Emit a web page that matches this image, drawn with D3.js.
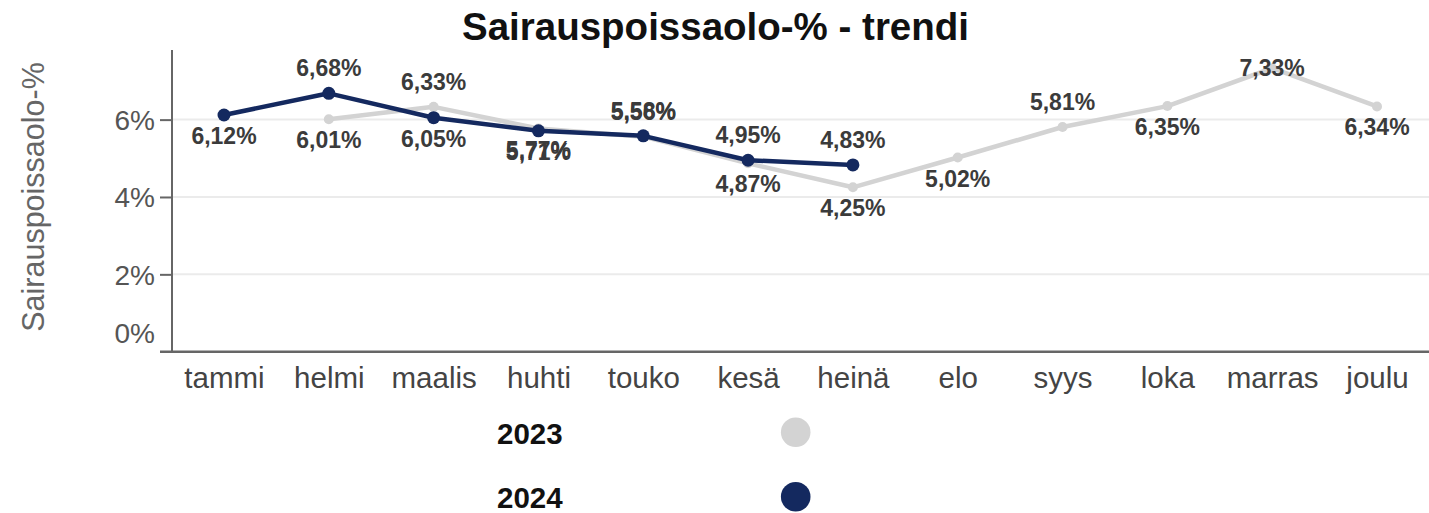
<!DOCTYPE html>
<html><head><meta charset="utf-8">
<script src="https://cdn.jsdelivr.net/npm/d3@7"></script>
<style>
body{margin:0;background:#fff;}
svg{display:block;font-family:"Liberation Sans",Arial,sans-serif;}
</style></head>
<body><svg id="c" width="1429" height="513"></svg>
<script>
const months = ["tammi","helmi","maalis","huhti","touko","kesä","heinä","elo","syys","loka","marras","joulu"];
const years = ["2023","2024"];
const values2023 = [null,6.01,6.33,5.77,5.56,4.87,4.25,5.02,5.81,6.35,7.33,6.34];
const values2024 = [6.12,6.68,6.05,5.71,5.58,4.95,4.83];
const yTicks = [0,2,4,6];
const labelSide2023 = [null,"below","above","below","above","below","below","below","above","below","above","below"];
const labelSide2024 = ["below","above","below","below","above","above","above"];
const colors = {"2023":"#d3d3d3","2024":"#14295f"};

const svg = d3.select("#c");
const x = d3.scalePoint().domain(months).range([224,1377]);
const y = d3.scaleLinear().domain([0,7.8]).range([351.7,50]);
const fmt = v => d3.format(".2f")(v).replace(".",",")+"%";

// title
svg.append("text").attr("x",715.5).attr("y",40).attr("text-anchor","middle")
  .attr("font-size",38.5).attr("font-weight","bold").attr("fill","#111").text("Sairauspoissaolo-% - trendi");

// gridlines
svg.append("g").selectAll("line").data(yTicks.filter(d=>d>0)).join("line")
  .attr("x1",172).attr("x2",1429).attr("y1",d=>y(d)).attr("y2",d=>y(d))
  .attr("stroke","#ebebeb").attr("stroke-width",2);

// y axis
const ya = svg.append("g").attr("transform","translate(172,0)")
  .call(d3.axisLeft(y).tickValues(yTicks).tickSize(12).tickPadding(5).tickFormat(d=>d+"%"));
ya.select(".domain").attr("d","M0,50V351.7").attr("stroke","#666").attr("stroke-width",2);
ya.selectAll(".tick line").attr("stroke","#666").attr("stroke-width",2).filter(d=>d===0).remove();
ya.selectAll(".tick text").attr("font-size",28).attr("fill","#555").attr("font-family","Liberation Sans, Arial, sans-serif")
  .attr("dy",d=>d===0?"-0.32em":"0.35em");

// x axis
const xa = svg.append("g").attr("transform","translate(0,351.7)")
  .call(d3.axisBottom(x).tickSize(0));
xa.select(".domain").attr("d","M160,0H1429").attr("stroke","#666").attr("stroke-width",2.5);
xa.selectAll(".tick text").attr("font-size",29.5).attr("fill","#444").attr("y",36.6).attr("dy",0).attr("font-family","Liberation Sans, Arial, sans-serif");

// y title
svg.append("text").attr("transform","translate(44,197) rotate(-90)").attr("text-anchor","middle")
  .attr("font-size",30.5).attr("fill","#666").text("Sairauspoissaolo-%");

const series = [
  {key:"2023", vals:values2023, sides:labelSide2023, r:5},
  {key:"2024", vals:values2024, sides:labelSide2024, r:6.5}
];
const line = d3.line().defined(d=>d.v!=null).x(d=>x(d.m)).y(d=>y(d.v));
series.forEach(s=>{
  const pts = s.vals.map((v,i)=>({m:months[i],v,side:s.sides[i]}));
  svg.append("path").datum(pts).attr("d",line).attr("fill","none")
    .attr("stroke",colors[s.key]).attr("stroke-width",4.5).attr("stroke-linejoin","round");
  svg.append("g").selectAll("circle").data(pts.filter(d=>d.v!=null)).join("circle")
    .attr("cx",d=>x(d.m)).attr("cy",d=>y(d.v)).attr("r",s.r).attr("fill",colors[s.key]);
});
series.forEach(s=>{
  const pts = s.vals.map((v,i)=>({m:months[i],v,side:s.sides[i]}));
  svg.append("g").selectAll("text").data(pts.filter(d=>d.v!=null)).join("text")
    .attr("x",d=>x(d.m)).attr("y",d=>d.side==="above"?Math.max(y(d.v)-17,75.5):y(d.v)+29)
    .attr("text-anchor","middle").attr("font-size",23).attr("font-weight","bold")
    .attr("fill","#3b3b3b").text(d=>fmt(d.v));
});

// legend
const lg = svg.append("g");
years.forEach((k,i)=>{
  const cy = 432.3+i*64.4;
  lg.append("text").attr("x",497).attr("y",cy+11.7).attr("font-size",29.5).attr("font-weight","bold")
    .attr("fill","#111").text(k);
  lg.append("circle").attr("cx",795.7).attr("cy",cy).attr("r",14.8).attr("fill",colors[k]);
});
</script></body></html>
